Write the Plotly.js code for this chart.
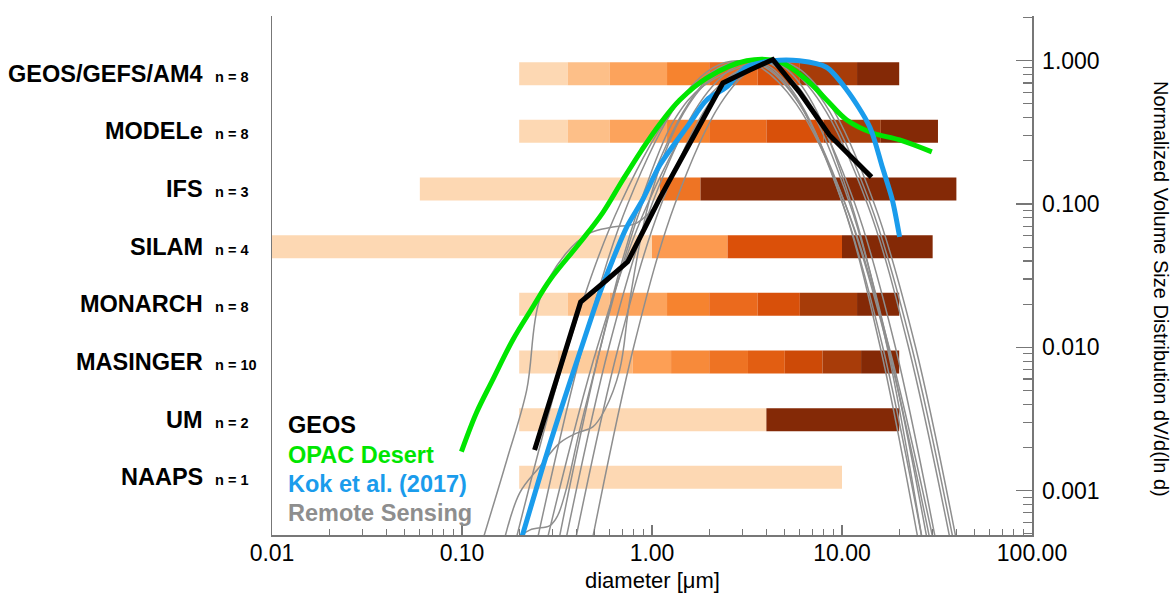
<!DOCTYPE html>
<html>
<head>
<meta charset="utf-8">
<script src="https://cdn.plot.ly/plotly-3.0.1.min.js"></script>
<style>html,body{margin:0;padding:0;background:#fff;}#chart{width:1173px;height:594px;}</style>
</head>
<body>
<div id="chart"></div>
<script>
// ---------- categories (top to bottom) ----------
const modelNames = ['GEOS/GEFS/AM4', 'MODELe', 'IFS', 'SILAM', 'MONARCH', 'MASINGER', 'UM', 'NAAPS'];
const modelBinCounts = [8, 8, 3, 4, 8, 10, 2, 1];

// ---------- size-bin edges (diameter, um) ----------
const geosEdges     = [0.2, 0.36, 0.6, 1.2, 2.0, 3.6, 6.0, 12.0, 20.0];
const modeleEdges   = [0.2, 0.36, 0.6, 1.2, 2.0, 4.0, 8.0, 16.0, 32.0];
const ifsEdges      = [0.06, 1.1, 1.8, 40];
const silamEdges    = [0.01, 1.0, 2.5, 10, 30];
const monarchEdges  = [0.2, 0.36, 0.6, 1.2, 2.0, 3.6, 6.0, 12.0, 20.0];
const masingerEdges = [0.2, 0.32, 0.5, 0.79, 1.26, 2.0, 3.2, 5.0, 7.9, 12.6, 20];
const umEdges       = [0.2, 4.0, 20];
const naapsEdges    = [0.2, 10];

// ---------- bin colours ----------
const geosColors     = ['#fdd8b3','#fdbf88','#fca35c','#f6832f','#eb6a1d','#d8500a','#a73c09','#842906'];
const modeleColors   = ['#fdd8b3','#fdbf88','#fca35c','#f6832f','#eb6a1d','#d8500a','#a73c09','#842906'];
const ifsColors      = ['#fdd8b3','#ee7424','#842906'];
const silamColors    = ['#fdd8b3','#fc9a50','#db5009','#842906'];
const monarchColors  = ['#fdd8b3','#fdbf88','#fca35c','#f6832f','#eb6a1d','#d8500a','#a73c09','#842906'];
const masingerColors = ['#fdd8b3','#fdcc9c','#fdb679','#fd9f55','#f78a3a','#ee7323','#e25e12','#cd4a07','#a83c09','#842906'];
const umColors       = ['#fdd8b3','#842906'];
const naapsColors    = ['#fdd8b3'];

// ---------- curves: diameter (um) and normalized dV/dlnd ----------
const geosD = [0.241, 0.421, 0.578, 0.745, 1.10, 1.78, 2.36, 3.27, 4.32, 5.97, 8.58, 14.3];
const geosV = [0.00192, 0.0207, 0.0295, 0.0395, 0.110, 0.356, 0.699, 0.861, 1.02, 0.604, 0.303, 0.154];

const opacD = [0.0993, 0.119, 0.145, 0.185, 0.236, 0.290, 0.416, 0.550, 0.701, 0.883, 1.10, 1.40, 1.94, 3.15, 4.70, 6.52, 8.30, 10.6, 14.5, 20.1, 29.7];
const opacV = [0.00187, 0.00348, 0.00592, 0.01125, 0.0191, 0.0295, 0.0534, 0.0867, 0.147, 0.238, 0.362, 0.532, 0.757, 1.0, 0.98, 0.733, 0.532, 0.386, 0.313, 0.280, 0.231];

const kokD = [0.2, 0.266, 0.327, 0.416, 0.531, 0.621, 0.736, 0.893, 1.10, 1.58, 1.94, 2.47, 3.15, 4.32, 5.97, 8.28, 10.6, 14.0, 16.3, 18.4, 20.1];
const kokV = [0.00041, 0.00146, 0.00348, 0.00912, 0.0239, 0.0407, 0.0690, 0.107, 0.187, 0.367, 0.532, 0.655, 0.904, 1.0, 1.0, 0.90, 0.625, 0.345, 0.181, 0.107, 0.059];

const rs1D = [0.125, 0.172, 0.219, 0.256, 0.354, 0.47, 0.621, 0.83, 1.10, 1.58, 2.27, 3.55, 4.57, 6.6, 11.0, 17.6, 30.5];
const rs1V = [0.0004, 0.00163, 0.00502, 0.0214, 0.0455, 0.0627, 0.069, 0.0736, 0.107, 0.28, 0.625, 1.0, 0.89, 0.5, 0.1, 0.01, 0.00025];
const rs2D = [0.163, 0.201, 0.256, 0.327, 0.402, 0.488, 0.564, 0.676, 0.764, 0.972, 1.40, 2.01, 3.31, 4.25, 6.08, 10.1, 15.9, 27.3];
const rs2V = [0.0004, 0.00096, 0.00146, 0.00215, 0.00252, 0.00278, 0.00365, 0.00695, 0.0213, 0.107, 0.386, 0.733, 1.0, 0.89, 0.5, 0.1, 0.01, 0.00025];
const rs3D = [0.17, 0.227, 0.290, 0.319, 0.352, 0.416, 0.531, 0.676, 0.916, 1.31, 1.89, 3.98, 5.24, 7.78, 13.6, 22.4, 40.6];
const rs3V = [0.0004, 0.00053, 0.00057, 0.00067, 0.001, 0.00264, 0.00955, 0.0347, 0.125, 0.386, 0.676, 1.0, 0.89, 0.5, 0.1, 0.01, 0.00025];
const rs4D = [0.172, 0.361, 0.681, 1.365, 2.24, 3.16, 4.10, 5.98, 10.1, 16.4, 28.8];
const rs4V = [0.00025, 0.01, 0.1, 0.5, 0.89, 1.0, 0.89, 0.5, 0.1, 0.01, 0.00025];
const rs5D = [0.252, 0.515, 0.948, 1.85, 2.99, 4.17, 5.47, 8.13, 14.1, 23.3, 42.1];
const rs5V = [0.00025, 0.01, 0.1, 0.5, 0.89, 1.0, 0.89, 0.5, 0.1, 0.01, 0.00025];
const rs6D = [0.296, 0.536, 0.889, 1.55, 2.30, 3.02, 3.99, 5.96, 10.4, 17.4, 31.8];
const rs6V = [0.00025, 0.01, 0.1, 0.5, 0.89, 1.0, 0.89, 0.5, 0.1, 0.01, 0.00025];
const rs7D = [0.444, 0.80, 1.32, 2.29, 3.40, 4.47, 5.85, 8.61, 14.8, 24.4, 43.6];
const rs7V = [0.00025, 0.01, 0.1, 0.5, 0.89, 1.0, 0.89, 0.5, 0.1, 0.01, 0.00025];
const rs8D = [0.321, 0.593, 1.0, 1.77, 2.67, 3.55, 4.63, 6.81, 11.7, 19.1, 33.9];
const rs8V = [0.00025, 0.01, 0.1, 0.5, 0.89, 1.0, 0.89, 0.5, 0.1, 0.01, 0.00025];
const rs9D = [0.361, 0.665, 1.12, 1.99, 3.0, 3.98, 5.02, 7.03, 11.2, 17.3, 28.5];
const rs9V = [0.00025, 0.01, 0.1, 0.5, 0.89, 1.0, 0.89, 0.5, 0.1, 0.01, 0.00025];
const rs10D = [0.226, 0.431, 0.745, 1.36, 2.09, 2.82, 3.77, 5.74, 10.4, 17.7, 33.2];
const rs10V = [0.00025, 0.01, 0.1, 0.5, 0.89, 1.0, 0.89, 0.5, 0.1, 0.01, 0.00025];

// ---------- tick labels ----------
const xTickVals = [0.01, 0.1, 1, 10, 100];
const xTickText = ['0.01', '0.10', '1.00', '10.00', '100.00'];
const xMinorVals = [0.02,0.03,0.04,0.05,0.06,0.07,0.08,0.09,0.2,0.3,0.4,0.5,0.6,0.7,0.8,0.9,2,3,4,5,6,7,8,9,20,30,40,50,60,70,80,90];
const yTickVals = [0.001, 0.01, 0.1, 1];
const yTickText = ['0.001', '0.010', '0.100', '1.000'];
const yMinorVals = [0.0005,0.0006,0.0007,0.0008,0.0009,0.002,0.003,0.004,0.005,0.006,0.007,0.008,0.009,0.02,0.03,0.04,0.05,0.06,0.07,0.08,0.09,0.2,0.3,0.4,0.5,0.6,0.7,0.8,0.9,2];

// ---------- build ----------
const allEdges = [geosEdges, modeleEdges, ifsEdges, silamEdges, monarchEdges, masingerEdges, umEdges, naapsEdges];
const allColors = [geosColors, modeleColors, ifsColors, silamColors, monarchColors, masingerColors, umColors, naapsColors];
const FONT = 'Liberation Sans, Arial, Helvetica, sans-serif';
const traces = [];
modelNames.forEach((name, i) => {
  const e = allEdges[i];
  const pos = modelNames.length - i;
  const base = e.slice(0, -1);
  const w = base.map((b, k) => e[k + 1] - b);
  traces.push({
    type: 'bar', orientation: 'h', xaxis: 'x', yaxis: 'y',
    y: base.map(() => pos), base: base, x: w, width: 0.4,
    marker: {color: allColors[i], line: {width: 0}},
    hoverinfo: 'skip', showlegend: false
  });
});
const rsD = [rs1D, rs2D, rs3D, rs4D, rs5D, rs6D, rs7D, rs8D, rs9D, rs10D];
const rsV = [rs1V, rs2V, rs3V, rs4V, rs5V, rs6V, rs7V, rs8V, rs9V, rs10V];
rsD.forEach((d, k) => {
  traces.push({type: 'scatter', mode: 'lines', xaxis: 'x', yaxis: 'y2', x: d, y: rsV[k],
    line: {color: '#8e8e8e', width: 1.5, shape: 'spline', smoothing: 1}, hoverinfo: 'skip', showlegend: false});
});
traces.push({type: 'scatter', mode: 'lines', xaxis: 'x', yaxis: 'y2', x: opacD, y: opacV,
  line: {color: '#00e600', width: 5, shape: 'spline', smoothing: 1}, showlegend: false});
traces.push({type: 'scatter', mode: 'lines', xaxis: 'x', yaxis: 'y2', x: kokD, y: kokV,
  line: {color: '#1a9cec', width: 5, shape: 'spline', smoothing: 0.8}, showlegend: false});
traces.push({type: 'scatter', mode: 'lines', xaxis: 'x', yaxis: 'y2', x: geosD, y: geosV,
  line: {color: '#000000', width: 5}, showlegend: false});

const annotations = [];
modelNames.forEach((name, i) => {
  const pos = modelNames.length - i;
  annotations.push({xref: 'paper', yref: 'y', x: -0.0882, y: pos, xanchor: 'right', yanchor: 'middle',
    text: '<b>' + name + '</b>', showarrow: false, font: {size: 23.5, color: '#000', family: FONT}});
  annotations.push({xref: 'paper', yref: 'y', x: -0.0776, y: pos, xanchor: 'left', yanchor: 'middle', yshift: -3,
    text: '<b>n = ' + modelBinCounts[i] + '</b>', showarrow: false, font: {size: 14.5, color: '#000', family: FONT}});
});
const legendItems = [['GEOS', '#000000'], ['OPAC Desert', '#00e600'], ['Kok et al. (2017)', '#1a9cec'], ['Remote Sensing', '#8e8e8e']];
const legendY = [0.212, 0.155, 0.099, 0.043];
legendItems.forEach((it, k) => {
  annotations.push({xref: 'paper', yref: 'paper', x: 0.019, y: legendY[k], xanchor: 'left', yanchor: 'middle',
    text: '<b>' + it[0] + '</b>', showarrow: false, font: {size: 23.5, color: it[1], family: FONT}});
});
annotations.push({xref: 'paper', yref: 'paper', x: 1.1697, y: 0.474, xanchor: 'center', yanchor: 'middle',
  text: 'Normalized Volume Size Distribution dV/d(ln d)', textangle: 90, showarrow: false,
  font: {size: 20, color: '#000', family: FONT}});
// x-axis title
annotations.push({xref: 'paper', yref: 'paper', x: 0.5, y: -0.0885, xanchor: 'center', yanchor: 'middle',
  text: 'diameter [μm]', showarrow: false, font: {size: 22, color: '#000', family: FONT}});

const layout = {
  width: 1173, height: 594,
  margin: {l: 272, r: 141, t: 16, b: 59, pad: 0},
  paper_bgcolor: '#ffffff', plot_bgcolor: '#ffffff',
  showlegend: false, barmode: 'overlay',
  font: {family: FONT, color: '#000'},
  xaxis: {type: 'log', range: [-2, 2], tickmode: 'array', tickvals: xTickVals, ticktext: xTickText,
    ticks: 'inside', ticklen: 10, tickwidth: 1.3, tickcolor: '#777', showline: true, linecolor: '#777', linewidth: 1.5,
    showgrid: false, zeroline: false, tickfont: {size: 23, color: '#000'}, ticklabelstandoff: -3, ticklabeloverflow: 'allow',
    minor: {tickmode: 'array', tickvals: xMinorVals, ticks: 'inside', ticklen: 6, tickwidth: 1.2, tickcolor: '#777', showgrid: false}},
  yaxis: {range: [0, 9], showticklabels: false, tickmode: 'array', tickvals: [9], ticks: 'inside', ticklen: 14,
    tickcolor: '#777', tickwidth: 1.3, showline: true, linecolor: '#777', linewidth: 1.5, showgrid: false, zeroline: false},
  yaxis2: {type: 'log', range: [-3.31, 0.312], overlaying: 'y', side: 'right', tickmode: 'array',
    tickvals: yTickVals, ticktext: yTickText, ticks: 'inside', ticklen: 16, tickwidth: 1.3, tickcolor: '#777',
    showline: true, linecolor: '#777', linewidth: 1.5, showgrid: false, zeroline: false,
    tickfont: {size: 23, color: '#000'}, ticklabelstandoff: 4,
    minor: {tickmode: 'array', tickvals: yMinorVals, ticks: 'inside', ticklen: 9, tickwidth: 1.2, tickcolor: '#777', showgrid: false}},
  annotations: annotations
};
Plotly.newPlot('chart', traces, layout, {displayModeBar: false, staticPlot: true});
</script>
</body>
</html>
